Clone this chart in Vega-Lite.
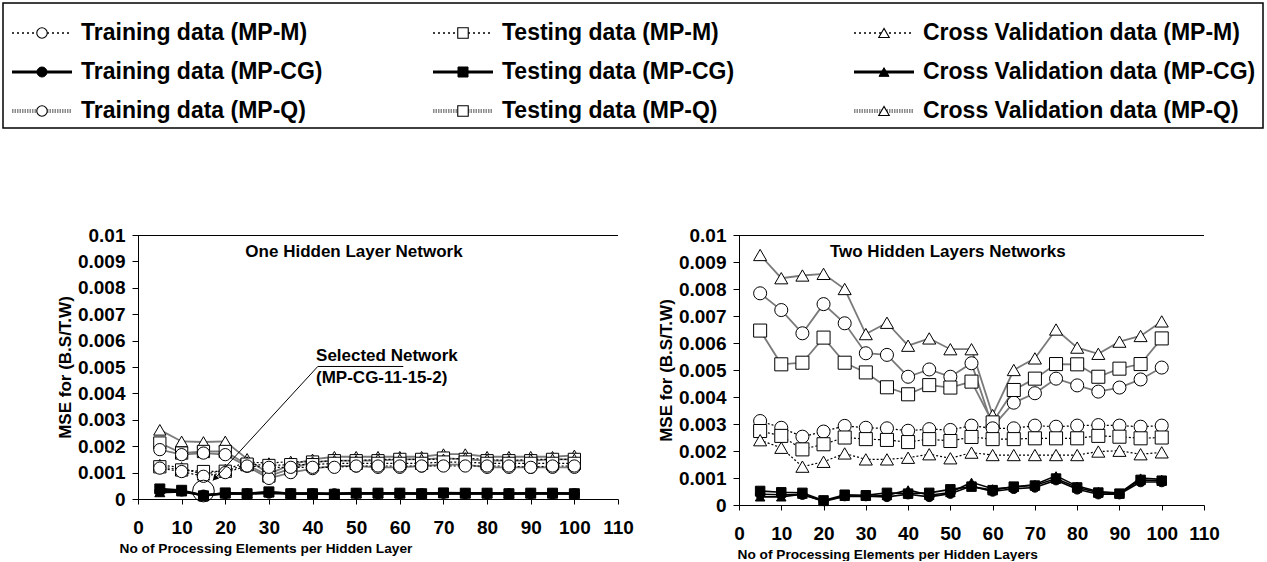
{
  "$schema": "https://vega.github.io/schema/vega-lite/v6.json",
  "background": "white",
  "padding": {"left": 2, "top": 2, "right": 0, "bottom": 0},
  "config": {
    "font": "Liberation Sans",
    "view": {"stroke": null},
    "axis": {
      "labelFont": "Liberation Sans", "labelFontSize": 19, "labelFontWeight": "bold", "labelColor": "#000",
      "titleFont": "Liberation Sans", "titleFontSize": 17, "titleFontWeight": "bold", "titleColor": "#000",
      "domainColor": "#000", "domainWidth": 1, "tickColor": "#000", "tickWidth": 1, "grid": false,
      "labelFlush": false, "labelOverlap": false
    },
    "axisY": {"tickSize": 6, "labelPadding": 7, "titlePadding": 3},
    "axisX": {"tickSize": 5, "labelPadding": 14, "titlePadding": 4, "titleFontSize": 13.7}
  },
  "datasets": {
    "keys": [
      {"set": "Training", "method": "MP-M", "label": "Training data (MP-M)"},
      {"set": "Testing", "method": "MP-M", "label": "Testing data (MP-M)"},
      {"set": "Cross Validation", "method": "MP-M", "label": "Cross Validation data (MP-M)"},
      {"set": "Training", "method": "MP-CG", "label": "Training data (MP-CG)"},
      {"set": "Testing", "method": "MP-CG", "label": "Testing data (MP-CG)"},
      {"set": "Cross Validation", "method": "MP-CG", "label": "Cross Validation data (MP-CG)"},
      {"set": "Training", "method": "MP-Q", "label": "Training data (MP-Q)"},
      {"set": "Testing", "method": "MP-Q", "label": "Testing data (MP-Q)"},
      {"set": "Cross Validation", "method": "MP-Q", "label": "Cross Validation data (MP-Q)"}
    ],
    "one": [
      {"pe":5,"set":"Cross Validation","method":"MP-Q","mse":0.00262},{"pe":10,"set":"Cross Validation","method":"MP-Q","mse":0.00218},{"pe":15,"set":"Cross Validation","method":"MP-Q","mse":0.00216},{"pe":20,"set":"Cross Validation","method":"MP-Q","mse":0.00218},{"pe":25,"set":"Cross Validation","method":"MP-Q","mse":0.00152},{"pe":30,"set":"Cross Validation","method":"MP-Q","mse":0.00095},{"pe":35,"set":"Cross Validation","method":"MP-Q","mse":0.0013},{"pe":40,"set":"Cross Validation","method":"MP-Q","mse":0.0015},{"pe":45,"set":"Cross Validation","method":"MP-Q","mse":0.0016},{"pe":50,"set":"Cross Validation","method":"MP-Q","mse":0.0016},{"pe":55,"set":"Cross Validation","method":"MP-Q","mse":0.0016},{"pe":60,"set":"Cross Validation","method":"MP-Q","mse":0.0016},{"pe":65,"set":"Cross Validation","method":"MP-Q","mse":0.0016},{"pe":70,"set":"Cross Validation","method":"MP-Q","mse":0.0017},{"pe":75,"set":"Cross Validation","method":"MP-Q","mse":0.0017},{"pe":80,"set":"Cross Validation","method":"MP-Q","mse":0.0016},{"pe":85,"set":"Cross Validation","method":"MP-Q","mse":0.0016},{"pe":90,"set":"Cross Validation","method":"MP-Q","mse":0.0016},{"pe":95,"set":"Cross Validation","method":"MP-Q","mse":0.0016},{"pe":100,"set":"Cross Validation","method":"MP-Q","mse":0.00165},
      {"pe":5,"set":"Testing","method":"MP-Q","mse":0.00212},{"pe":10,"set":"Testing","method":"MP-Q","mse":0.00174},{"pe":15,"set":"Testing","method":"MP-Q","mse":0.0018},{"pe":20,"set":"Testing","method":"MP-Q","mse":0.0018},{"pe":25,"set":"Testing","method":"MP-Q","mse":0.0013},{"pe":30,"set":"Testing","method":"MP-Q","mse":0.00087},{"pe":35,"set":"Testing","method":"MP-Q","mse":0.00115},{"pe":40,"set":"Testing","method":"MP-Q","mse":0.0014},{"pe":45,"set":"Testing","method":"MP-Q","mse":0.00145},{"pe":50,"set":"Testing","method":"MP-Q","mse":0.00145},{"pe":55,"set":"Testing","method":"MP-Q","mse":0.00145},{"pe":60,"set":"Testing","method":"MP-Q","mse":0.0015},{"pe":65,"set":"Testing","method":"MP-Q","mse":0.0015},{"pe":70,"set":"Testing","method":"MP-Q","mse":0.00155},{"pe":75,"set":"Testing","method":"MP-Q","mse":0.0015},{"pe":80,"set":"Testing","method":"MP-Q","mse":0.00145},{"pe":85,"set":"Testing","method":"MP-Q","mse":0.00145},{"pe":90,"set":"Testing","method":"MP-Q","mse":0.00145},{"pe":95,"set":"Testing","method":"MP-Q","mse":0.0015},{"pe":100,"set":"Testing","method":"MP-Q","mse":0.0015},
      {"pe":5,"set":"Training","method":"MP-Q","mse":0.00187},{"pe":10,"set":"Training","method":"MP-Q","mse":0.00168},{"pe":15,"set":"Training","method":"MP-Q","mse":0.00174},{"pe":20,"set":"Training","method":"MP-Q","mse":0.00168},{"pe":25,"set":"Training","method":"MP-Q","mse":0.00124},{"pe":30,"set":"Training","method":"MP-Q","mse":0.00078},{"pe":35,"set":"Training","method":"MP-Q","mse":0.001},{"pe":40,"set":"Training","method":"MP-Q","mse":0.00115},{"pe":45,"set":"Training","method":"MP-Q","mse":0.00125},{"pe":50,"set":"Training","method":"MP-Q","mse":0.00125},{"pe":55,"set":"Training","method":"MP-Q","mse":0.0012},{"pe":60,"set":"Training","method":"MP-Q","mse":0.0012},{"pe":65,"set":"Training","method":"MP-Q","mse":0.00125},{"pe":70,"set":"Training","method":"MP-Q","mse":0.0013},{"pe":75,"set":"Training","method":"MP-Q","mse":0.0013},{"pe":80,"set":"Training","method":"MP-Q","mse":0.0012},{"pe":85,"set":"Training","method":"MP-Q","mse":0.0012},{"pe":90,"set":"Training","method":"MP-Q","mse":0.0012},{"pe":95,"set":"Training","method":"MP-Q","mse":0.0012},{"pe":100,"set":"Training","method":"MP-Q","mse":0.0012},
      {"pe":5,"set":"Cross Validation","method":"MP-M","mse":0.0013},{"pe":10,"set":"Cross Validation","method":"MP-M","mse":0.00118},{"pe":15,"set":"Cross Validation","method":"MP-M","mse":0.00092},{"pe":20,"set":"Cross Validation","method":"MP-M","mse":0.00111},{"pe":25,"set":"Cross Validation","method":"MP-M","mse":0.0014},{"pe":30,"set":"Cross Validation","method":"MP-M","mse":0.00136},{"pe":35,"set":"Cross Validation","method":"MP-M","mse":0.00142},{"pe":40,"set":"Cross Validation","method":"MP-M","mse":0.0014},{"pe":45,"set":"Cross Validation","method":"MP-M","mse":0.00145},{"pe":50,"set":"Cross Validation","method":"MP-M","mse":0.00145},{"pe":55,"set":"Cross Validation","method":"MP-M","mse":0.0015},{"pe":60,"set":"Cross Validation","method":"MP-M","mse":0.0015},{"pe":65,"set":"Cross Validation","method":"MP-M","mse":0.0015},{"pe":70,"set":"Cross Validation","method":"MP-M","mse":0.0015},{"pe":75,"set":"Cross Validation","method":"MP-M","mse":0.00155},{"pe":80,"set":"Cross Validation","method":"MP-M","mse":0.0015},{"pe":85,"set":"Cross Validation","method":"MP-M","mse":0.00145},{"pe":90,"set":"Cross Validation","method":"MP-M","mse":0.0015},{"pe":95,"set":"Cross Validation","method":"MP-M","mse":0.0015},{"pe":100,"set":"Cross Validation","method":"MP-M","mse":0.0015},
      {"pe":5,"set":"Testing","method":"MP-M","mse":0.00122},{"pe":10,"set":"Testing","method":"MP-M","mse":0.0011},{"pe":15,"set":"Testing","method":"MP-M","mse":0.00104},{"pe":20,"set":"Testing","method":"MP-M","mse":0.00105},{"pe":25,"set":"Testing","method":"MP-M","mse":0.00132},{"pe":30,"set":"Testing","method":"MP-M","mse":0.00127},{"pe":35,"set":"Testing","method":"MP-M","mse":0.0013},{"pe":40,"set":"Testing","method":"MP-M","mse":0.0013},{"pe":45,"set":"Testing","method":"MP-M","mse":0.00135},{"pe":50,"set":"Testing","method":"MP-M","mse":0.00135},{"pe":55,"set":"Testing","method":"MP-M","mse":0.00135},{"pe":60,"set":"Testing","method":"MP-M","mse":0.00135},{"pe":65,"set":"Testing","method":"MP-M","mse":0.00135},{"pe":70,"set":"Testing","method":"MP-M","mse":0.0014},{"pe":75,"set":"Testing","method":"MP-M","mse":0.0014},{"pe":80,"set":"Testing","method":"MP-M","mse":0.00135},{"pe":85,"set":"Testing","method":"MP-M","mse":0.00135},{"pe":90,"set":"Testing","method":"MP-M","mse":0.00135},{"pe":95,"set":"Testing","method":"MP-M","mse":0.00135},{"pe":100,"set":"Testing","method":"MP-M","mse":0.00135},
      {"pe":5,"set":"Training","method":"MP-M","mse":0.00117},{"pe":10,"set":"Training","method":"MP-M","mse":0.00104},{"pe":15,"set":"Training","method":"MP-M","mse":0.00086},{"pe":20,"set":"Training","method":"MP-M","mse":0.001},{"pe":25,"set":"Training","method":"MP-M","mse":0.00125},{"pe":30,"set":"Training","method":"MP-M","mse":0.0012},{"pe":35,"set":"Training","method":"MP-M","mse":0.0012},{"pe":40,"set":"Training","method":"MP-M","mse":0.0012},{"pe":45,"set":"Training","method":"MP-M","mse":0.0012},{"pe":50,"set":"Training","method":"MP-M","mse":0.00125},{"pe":55,"set":"Training","method":"MP-M","mse":0.00125},{"pe":60,"set":"Training","method":"MP-M","mse":0.00125},{"pe":65,"set":"Training","method":"MP-M","mse":0.00125},{"pe":70,"set":"Training","method":"MP-M","mse":0.00125},{"pe":75,"set":"Training","method":"MP-M","mse":0.00125},{"pe":80,"set":"Training","method":"MP-M","mse":0.00125},{"pe":85,"set":"Training","method":"MP-M","mse":0.00125},{"pe":90,"set":"Training","method":"MP-M","mse":0.0012},{"pe":95,"set":"Training","method":"MP-M","mse":0.00125},{"pe":100,"set":"Training","method":"MP-M","mse":0.00125},
      {"pe":5,"set":"Testing","method":"MP-CG","mse":0.00038},{"pe":10,"set":"Testing","method":"MP-CG","mse":0.00033},{"pe":15,"set":"Testing","method":"MP-CG","mse":0.00012},{"pe":20,"set":"Testing","method":"MP-CG","mse":0.00023},{"pe":25,"set":"Testing","method":"MP-CG","mse":0.0002},{"pe":30,"set":"Testing","method":"MP-CG","mse":0.00027},{"pe":35,"set":"Testing","method":"MP-CG","mse":0.0002},{"pe":40,"set":"Testing","method":"MP-CG","mse":0.0002},{"pe":45,"set":"Testing","method":"MP-CG","mse":0.00018},{"pe":50,"set":"Testing","method":"MP-CG","mse":0.00022},{"pe":55,"set":"Testing","method":"MP-CG","mse":0.00022},{"pe":60,"set":"Testing","method":"MP-CG","mse":0.00022},{"pe":65,"set":"Testing","method":"MP-CG","mse":0.0002},{"pe":70,"set":"Testing","method":"MP-CG","mse":0.00023},{"pe":75,"set":"Testing","method":"MP-CG","mse":0.00022},{"pe":80,"set":"Testing","method":"MP-CG","mse":0.00022},{"pe":85,"set":"Testing","method":"MP-CG","mse":0.0002},{"pe":90,"set":"Testing","method":"MP-CG","mse":0.00022},{"pe":95,"set":"Testing","method":"MP-CG","mse":0.00022},{"pe":100,"set":"Testing","method":"MP-CG","mse":0.0002},
      {"pe":5,"set":"Training","method":"MP-CG","mse":0.0003},{"pe":10,"set":"Training","method":"MP-CG","mse":0.0003},{"pe":15,"set":"Training","method":"MP-CG","mse":0.00015},{"pe":20,"set":"Training","method":"MP-CG","mse":0.0002},{"pe":25,"set":"Training","method":"MP-CG","mse":0.0002},{"pe":30,"set":"Training","method":"MP-CG","mse":0.00022},{"pe":35,"set":"Training","method":"MP-CG","mse":0.0002},{"pe":40,"set":"Training","method":"MP-CG","mse":0.0002},{"pe":45,"set":"Training","method":"MP-CG","mse":0.0002},{"pe":50,"set":"Training","method":"MP-CG","mse":0.00021},{"pe":55,"set":"Training","method":"MP-CG","mse":0.0002},{"pe":60,"set":"Training","method":"MP-CG","mse":0.0002},{"pe":65,"set":"Training","method":"MP-CG","mse":0.0002},{"pe":70,"set":"Training","method":"MP-CG","mse":0.00021},{"pe":75,"set":"Training","method":"MP-CG","mse":0.0002},{"pe":80,"set":"Training","method":"MP-CG","mse":0.0002},{"pe":85,"set":"Training","method":"MP-CG","mse":0.0002},{"pe":90,"set":"Training","method":"MP-CG","mse":0.0002},{"pe":95,"set":"Training","method":"MP-CG","mse":0.0002},{"pe":100,"set":"Training","method":"MP-CG","mse":0.0002},
      {"pe":5,"set":"Cross Validation","method":"MP-CG","mse":0.00025},{"pe":10,"set":"Cross Validation","method":"MP-CG","mse":0.00028},{"pe":15,"set":"Cross Validation","method":"MP-CG","mse":0.00015},{"pe":20,"set":"Cross Validation","method":"MP-CG","mse":0.0002},{"pe":25,"set":"Cross Validation","method":"MP-CG","mse":0.00021},{"pe":30,"set":"Cross Validation","method":"MP-CG","mse":0.00024},{"pe":35,"set":"Cross Validation","method":"MP-CG","mse":0.00021},{"pe":40,"set":"Cross Validation","method":"MP-CG","mse":0.00021},{"pe":45,"set":"Cross Validation","method":"MP-CG","mse":0.0002},{"pe":50,"set":"Cross Validation","method":"MP-CG","mse":0.00022},{"pe":55,"set":"Cross Validation","method":"MP-CG","mse":0.00021},{"pe":60,"set":"Cross Validation","method":"MP-CG","mse":0.00021},{"pe":65,"set":"Cross Validation","method":"MP-CG","mse":0.00021},{"pe":70,"set":"Cross Validation","method":"MP-CG","mse":0.00022},{"pe":75,"set":"Cross Validation","method":"MP-CG","mse":0.00021},{"pe":80,"set":"Cross Validation","method":"MP-CG","mse":0.00021},{"pe":85,"set":"Cross Validation","method":"MP-CG","mse":0.00021},{"pe":90,"set":"Cross Validation","method":"MP-CG","mse":0.00021},{"pe":95,"set":"Cross Validation","method":"MP-CG","mse":0.00021},{"pe":100,"set":"Cross Validation","method":"MP-CG","mse":0.00021}
    ],
    "two": [
      {"pe":5,"set":"Cross Validation","method":"MP-Q","mse":0.00926},{"pe":10,"set":"Cross Validation","method":"MP-Q","mse":0.0084},{"pe":15,"set":"Cross Validation","method":"MP-Q","mse":0.0085},{"pe":20,"set":"Cross Validation","method":"MP-Q","mse":0.00856},{"pe":25,"set":"Cross Validation","method":"MP-Q","mse":0.008},{"pe":30,"set":"Cross Validation","method":"MP-Q","mse":0.00633},{"pe":35,"set":"Cross Validation","method":"MP-Q","mse":0.00675},{"pe":40,"set":"Cross Validation","method":"MP-Q","mse":0.0059},{"pe":45,"set":"Cross Validation","method":"MP-Q","mse":0.00617},{"pe":50,"set":"Cross Validation","method":"MP-Q","mse":0.00577},{"pe":55,"set":"Cross Validation","method":"MP-Q","mse":0.00577},{"pe":60,"set":"Cross Validation","method":"MP-Q","mse":0.00333},{"pe":65,"set":"Cross Validation","method":"MP-Q","mse":0.005},{"pe":70,"set":"Cross Validation","method":"MP-Q","mse":0.00543},{"pe":75,"set":"Cross Validation","method":"MP-Q","mse":0.0065},{"pe":80,"set":"Cross Validation","method":"MP-Q","mse":0.00583},{"pe":85,"set":"Cross Validation","method":"MP-Q","mse":0.0056},{"pe":90,"set":"Cross Validation","method":"MP-Q","mse":0.00605},{"pe":95,"set":"Cross Validation","method":"MP-Q","mse":0.00626},{"pe":100,"set":"Cross Validation","method":"MP-Q","mse":0.0068},
      {"pe":5,"set":"Training","method":"MP-Q","mse":0.00784},{"pe":10,"set":"Training","method":"MP-Q","mse":0.00722},{"pe":15,"set":"Training","method":"MP-Q","mse":0.00636},{"pe":20,"set":"Training","method":"MP-Q","mse":0.00744},{"pe":25,"set":"Training","method":"MP-Q","mse":0.00673},{"pe":30,"set":"Training","method":"MP-Q","mse":0.00562},{"pe":35,"set":"Training","method":"MP-Q","mse":0.00556},{"pe":40,"set":"Training","method":"MP-Q","mse":0.00475},{"pe":45,"set":"Training","method":"MP-Q","mse":0.00502},{"pe":50,"set":"Training","method":"MP-Q","mse":0.00475},{"pe":55,"set":"Training","method":"MP-Q","mse":0.00525},{"pe":60,"set":"Training","method":"MP-Q","mse":0.0029},{"pe":65,"set":"Training","method":"MP-Q","mse":0.00379},{"pe":70,"set":"Training","method":"MP-Q","mse":0.00414},{"pe":75,"set":"Training","method":"MP-Q","mse":0.00468},{"pe":80,"set":"Training","method":"MP-Q","mse":0.00443},{"pe":85,"set":"Training","method":"MP-Q","mse":0.0042},{"pe":90,"set":"Training","method":"MP-Q","mse":0.00435},{"pe":95,"set":"Training","method":"MP-Q","mse":0.00465},{"pe":100,"set":"Training","method":"MP-Q","mse":0.00509},
      {"pe":5,"set":"Testing","method":"MP-Q","mse":0.00646},{"pe":10,"set":"Testing","method":"MP-Q","mse":0.00521},{"pe":15,"set":"Testing","method":"MP-Q","mse":0.00527},{"pe":20,"set":"Testing","method":"MP-Q","mse":0.0062},{"pe":25,"set":"Testing","method":"MP-Q","mse":0.00527},{"pe":30,"set":"Testing","method":"MP-Q","mse":0.00491},{"pe":35,"set":"Testing","method":"MP-Q","mse":0.00436},{"pe":40,"set":"Testing","method":"MP-Q","mse":0.0041},{"pe":45,"set":"Testing","method":"MP-Q","mse":0.00444},{"pe":50,"set":"Testing","method":"MP-Q","mse":0.00435},{"pe":55,"set":"Testing","method":"MP-Q","mse":0.00457},{"pe":60,"set":"Testing","method":"MP-Q","mse":0.00306},{"pe":65,"set":"Testing","method":"MP-Q","mse":0.00426},{"pe":70,"set":"Testing","method":"MP-Q","mse":0.00468},{"pe":75,"set":"Testing","method":"MP-Q","mse":0.00522},{"pe":80,"set":"Testing","method":"MP-Q","mse":0.00521},{"pe":85,"set":"Testing","method":"MP-Q","mse":0.00475},{"pe":90,"set":"Testing","method":"MP-Q","mse":0.00505},{"pe":95,"set":"Testing","method":"MP-Q","mse":0.00522},{"pe":100,"set":"Testing","method":"MP-Q","mse":0.00617},
      {"pe":5,"set":"Training","method":"MP-M","mse":0.00311},{"pe":10,"set":"Training","method":"MP-M","mse":0.00286},{"pe":15,"set":"Training","method":"MP-M","mse":0.00253},{"pe":20,"set":"Training","method":"MP-M","mse":0.00272},{"pe":25,"set":"Training","method":"MP-M","mse":0.00293},{"pe":30,"set":"Training","method":"MP-M","mse":0.00286},{"pe":35,"set":"Training","method":"MP-M","mse":0.00284},{"pe":40,"set":"Training","method":"MP-M","mse":0.00275},{"pe":45,"set":"Training","method":"MP-M","mse":0.00281},{"pe":50,"set":"Training","method":"MP-M","mse":0.00278},{"pe":55,"set":"Training","method":"MP-M","mse":0.00294},{"pe":60,"set":"Training","method":"MP-M","mse":0.00284},{"pe":65,"set":"Training","method":"MP-M","mse":0.00284},{"pe":70,"set":"Training","method":"MP-M","mse":0.00294},{"pe":75,"set":"Training","method":"MP-M","mse":0.0029},{"pe":80,"set":"Training","method":"MP-M","mse":0.00294},{"pe":85,"set":"Training","method":"MP-M","mse":0.00296},{"pe":90,"set":"Training","method":"MP-M","mse":0.00294},{"pe":95,"set":"Training","method":"MP-M","mse":0.0029},{"pe":100,"set":"Training","method":"MP-M","mse":0.00294},
      {"pe":5,"set":"Testing","method":"MP-M","mse":0.00274},{"pe":10,"set":"Testing","method":"MP-M","mse":0.00256},{"pe":15,"set":"Testing","method":"MP-M","mse":0.00206},{"pe":20,"set":"Testing","method":"MP-M","mse":0.00225},{"pe":25,"set":"Testing","method":"MP-M","mse":0.0025},{"pe":30,"set":"Testing","method":"MP-M","mse":0.00244},{"pe":35,"set":"Testing","method":"MP-M","mse":0.00241},{"pe":40,"set":"Testing","method":"MP-M","mse":0.00233},{"pe":45,"set":"Testing","method":"MP-M","mse":0.00244},{"pe":50,"set":"Testing","method":"MP-M","mse":0.00237},{"pe":55,"set":"Testing","method":"MP-M","mse":0.00252},{"pe":60,"set":"Testing","method":"MP-M","mse":0.00244},{"pe":65,"set":"Testing","method":"MP-M","mse":0.00244},{"pe":70,"set":"Testing","method":"MP-M","mse":0.00247},{"pe":75,"set":"Testing","method":"MP-M","mse":0.00247},{"pe":80,"set":"Testing","method":"MP-M","mse":0.00247},{"pe":85,"set":"Testing","method":"MP-M","mse":0.00256},{"pe":90,"set":"Testing","method":"MP-M","mse":0.00253},{"pe":95,"set":"Testing","method":"MP-M","mse":0.00247},{"pe":100,"set":"Testing","method":"MP-M","mse":0.0025},
      {"pe":5,"set":"Cross Validation","method":"MP-M","mse":0.0024},{"pe":10,"set":"Cross Validation","method":"MP-M","mse":0.00212},{"pe":15,"set":"Cross Validation","method":"MP-M","mse":0.00142},{"pe":20,"set":"Cross Validation","method":"MP-M","mse":0.0016},{"pe":25,"set":"Cross Validation","method":"MP-M","mse":0.00191},{"pe":30,"set":"Cross Validation","method":"MP-M","mse":0.00169},{"pe":35,"set":"Cross Validation","method":"MP-M","mse":0.00169},{"pe":40,"set":"Cross Validation","method":"MP-M","mse":0.00175},{"pe":45,"set":"Cross Validation","method":"MP-M","mse":0.00188},{"pe":50,"set":"Cross Validation","method":"MP-M","mse":0.00173},{"pe":55,"set":"Cross Validation","method":"MP-M","mse":0.00194},{"pe":60,"set":"Cross Validation","method":"MP-M","mse":0.00185},{"pe":65,"set":"Cross Validation","method":"MP-M","mse":0.00185},{"pe":70,"set":"Cross Validation","method":"MP-M","mse":0.00185},{"pe":75,"set":"Cross Validation","method":"MP-M","mse":0.00185},{"pe":80,"set":"Cross Validation","method":"MP-M","mse":0.00185},{"pe":85,"set":"Cross Validation","method":"MP-M","mse":0.00198},{"pe":90,"set":"Cross Validation","method":"MP-M","mse":0.00201},{"pe":95,"set":"Cross Validation","method":"MP-M","mse":0.00188},{"pe":100,"set":"Cross Validation","method":"MP-M","mse":0.00195},
      {"pe":5,"set":"Training","method":"MP-CG","mse":0.0004},{"pe":10,"set":"Training","method":"MP-CG","mse":0.00038},{"pe":15,"set":"Training","method":"MP-CG","mse":0.00038},{"pe":20,"set":"Training","method":"MP-CG","mse":0.00015},{"pe":25,"set":"Training","method":"MP-CG","mse":0.00033},{"pe":30,"set":"Training","method":"MP-CG","mse":0.00033},{"pe":35,"set":"Training","method":"MP-CG","mse":0.0003},{"pe":40,"set":"Training","method":"MP-CG","mse":0.0004},{"pe":45,"set":"Training","method":"MP-CG","mse":0.0003},{"pe":50,"set":"Training","method":"MP-CG","mse":0.00042},{"pe":55,"set":"Training","method":"MP-CG","mse":0.0007},{"pe":60,"set":"Training","method":"MP-CG","mse":0.0005},{"pe":65,"set":"Training","method":"MP-CG","mse":0.0006},{"pe":70,"set":"Training","method":"MP-CG","mse":0.00065},{"pe":75,"set":"Training","method":"MP-CG","mse":0.00092},{"pe":80,"set":"Training","method":"MP-CG","mse":0.00058},{"pe":85,"set":"Training","method":"MP-CG","mse":0.0004},{"pe":90,"set":"Training","method":"MP-CG","mse":0.0004},{"pe":95,"set":"Training","method":"MP-CG","mse":0.00085},{"pe":100,"set":"Training","method":"MP-CG","mse":0.00085},
      {"pe":5,"set":"Testing","method":"MP-CG","mse":0.00052},{"pe":10,"set":"Testing","method":"MP-CG","mse":0.00047},{"pe":15,"set":"Testing","method":"MP-CG","mse":0.00045},{"pe":20,"set":"Testing","method":"MP-CG","mse":0.00017},{"pe":25,"set":"Testing","method":"MP-CG","mse":0.00038},{"pe":30,"set":"Testing","method":"MP-CG","mse":0.00036},{"pe":35,"set":"Testing","method":"MP-CG","mse":0.00045},{"pe":40,"set":"Testing","method":"MP-CG","mse":0.00042},{"pe":45,"set":"Testing","method":"MP-CG","mse":0.00045},{"pe":50,"set":"Testing","method":"MP-CG","mse":0.00058},{"pe":55,"set":"Testing","method":"MP-CG","mse":0.00068},{"pe":60,"set":"Testing","method":"MP-CG","mse":0.00055},{"pe":65,"set":"Testing","method":"MP-CG","mse":0.00068},{"pe":70,"set":"Testing","method":"MP-CG","mse":0.00072},{"pe":75,"set":"Testing","method":"MP-CG","mse":0.00098},{"pe":80,"set":"Testing","method":"MP-CG","mse":0.00065},{"pe":85,"set":"Testing","method":"MP-CG","mse":0.00046},{"pe":90,"set":"Testing","method":"MP-CG","mse":0.00042},{"pe":95,"set":"Testing","method":"MP-CG","mse":0.00093},{"pe":100,"set":"Testing","method":"MP-CG","mse":0.0009},
      {"pe":5,"set":"Cross Validation","method":"MP-CG","mse":0.0003},{"pe":10,"set":"Cross Validation","method":"MP-CG","mse":0.0003},{"pe":15,"set":"Cross Validation","method":"MP-CG","mse":0.0004},{"pe":20,"set":"Cross Validation","method":"MP-CG","mse":0.00013},{"pe":25,"set":"Cross Validation","method":"MP-CG","mse":0.00032},{"pe":30,"set":"Cross Validation","method":"MP-CG","mse":0.00032},{"pe":35,"set":"Cross Validation","method":"MP-CG","mse":0.00035},{"pe":40,"set":"Cross Validation","method":"MP-CG","mse":0.00056},{"pe":45,"set":"Cross Validation","method":"MP-CG","mse":0.00036},{"pe":50,"set":"Cross Validation","method":"MP-CG","mse":0.00046},{"pe":55,"set":"Cross Validation","method":"MP-CG","mse":0.00084},{"pe":60,"set":"Cross Validation","method":"MP-CG","mse":0.0006},{"pe":65,"set":"Cross Validation","method":"MP-CG","mse":0.00066},{"pe":70,"set":"Cross Validation","method":"MP-CG","mse":0.00076},{"pe":75,"set":"Cross Validation","method":"MP-CG","mse":0.00108},{"pe":80,"set":"Cross Validation","method":"MP-CG","mse":0.0007},{"pe":85,"set":"Cross Validation","method":"MP-CG","mse":0.0005},{"pe":90,"set":"Cross Validation","method":"MP-CG","mse":0.00044},{"pe":95,"set":"Cross Validation","method":"MP-CG","mse":0.001},{"pe":100,"set":"Cross Validation","method":"MP-CG","mse":0.00095}
    ]
  },
  "spacing": 97,
  "vconcat": [
    {
      "width": 1260,
      "height": 125,
      "view": {"stroke": "#000", "strokeWidth": 1.5},
      "data": {"name": "keys"},
      "encoding": {
        "x": {"field": "set", "type": "nominal", "axis": null,
              "scale": {"type": "point", "padding": 0, "domain": ["Training", "Testing", "Cross Validation"], "range": [9, 851]}},
        "y": {"field": "method", "type": "nominal", "axis": null,
              "scale": {"type": "point", "padding": 0, "domain": ["MP-M", "MP-CG", "MP-Q"], "range": [30, 108]}}
      },
      "layer": [
        {"transform": [{"filter": "datum.method === 'MP-M'"}],
         "mark": {"type": "rule", "x2Offset": 60, "color": "#000", "strokeWidth": 1.3, "strokeDash": [2, 3]},
         "encoding": {"x2": {"field": "set"}}},
        {"transform": [{"filter": "datum.method === 'MP-CG'"}],
         "mark": {"type": "rule", "x2Offset": 60, "color": "#000", "strokeWidth": 2.8},
         "encoding": {"x2": {"field": "set"}}},
        {"transform": [{"filter": "datum.method === 'MP-Q'"}],
         "mark": {"type": "rule", "x2Offset": 60, "color": "#8a8a8a", "strokeWidth": 4, "strokeDash": [1.5, 1]},
         "encoding": {"x2": {"field": "set"}}},
        {"transform": [{"filter": "datum.method !== 'MP-CG'"}],
         "mark": {"type": "point", "xOffset": 30, "filled": true, "fill": "white", "stroke": "#000", "strokeWidth": 1.1, "size": 110, "opacity": 1},
         "encoding": {"shape": {"field": "set", "type": "nominal", "legend": null,
                                "scale": {"domain": ["Training", "Testing", "Cross Validation"], "range": ["circle", "square", "triangle-up"]}}}},
        {"transform": [{"filter": "datum.method === 'MP-CG'"}],
         "mark": {"type": "point", "xOffset": 30, "filled": true, "fill": "#000", "stroke": "#000", "strokeWidth": 1, "size": 100, "opacity": 1},
         "encoding": {"shape": {"field": "set", "type": "nominal", "legend": null,
                                "scale": {"domain": ["Training", "Testing", "Cross Validation"], "range": ["circle", "square", "triangle-up"]}}}},
        {"mark": {"type": "text", "dx": 69, "align": "left", "baseline": "middle", "fontSize": 23, "fontWeight": "bold", "color": "#000"},
         "encoding": {"text": {"field": "label"}}}
      ]
    },
    {
      "spacing": 23,
      "hconcat": [
        {"width": 30, "height": 20, "data": {"values": []}, "mark": "point"},
        {
          "width": 480,
          "height": 264,
          "data": {"name": "one"},
          "encoding": {
            "x": {"field": "pe", "type": "quantitative",
                  "scale": {"domain": [0, 110], "nice": false, "zero": false},
                  "axis": {"values": [0, 10, 20, 30, 40, 50, 60, 70, 80, 90, 100, 110],
                           "title": "No of Processing Elements per Hidden Layer", "titleX": -19, "titleAlign": "left"}},
            "y": {"field": "mse", "type": "quantitative",
                  "scale": {"domain": [0, 0.01], "nice": false},
                  "axis": {"values": [0, 0.001, 0.002, 0.003, 0.004, 0.005, 0.006, 0.007, 0.008, 0.009, 0.01],
                           "format": ".3~f", "title": "MSE for (B.S/T.W)"}}
          },
          "layer": [
            {"transform": [{"filter": "datum.pe === 5 && datum.set === 'Training' && datum.method === 'MP-M'"}],
             "mark": {"type": "rule", "color": "#000", "strokeWidth": 1, "yOffset": 0.5},
             "encoding": {"x": {"datum": 0}, "x2": {"datum": 110}, "y": {"datum": 0.01}}},
            {"transform": [{"filter": "datum.method === 'MP-Q'"}],
             "mark": {"type": "line", "color": "#7a7a7a", "strokeWidth": 1.8},
             "encoding": {"detail": {"field": "set"}}},
            {"transform": [{"filter": "datum.method === 'MP-M'"}],
             "mark": {"type": "line", "color": "#000", "strokeWidth": 1.2, "strokeDash": [2, 2]},
             "encoding": {"detail": {"field": "set"}}},
            {"transform": [{"filter": "datum.method !== 'MP-CG'"}],
             "mark": {"type": "point", "filled": true, "fill": "white", "stroke": "#000", "strokeWidth": 1, "size": 150, "opacity": 1},
             "encoding": {"shape": {"field": "set", "type": "nominal", "legend": null,
                                    "scale": {"domain": ["Training", "Testing", "Cross Validation"], "range": ["circle", "square", "triangle-up"]}}}},
            {"transform": [{"filter": "datum.method === 'MP-CG'"}],
             "mark": {"type": "line", "color": "#000", "strokeWidth": 2.2},
             "encoding": {"detail": {"field": "set"}}},
            {"transform": [{"filter": "datum.method === 'MP-CG'"}],
             "mark": {"type": "point", "filled": true, "fill": "#000", "stroke": "#000", "strokeWidth": 1, "size": 100, "opacity": 1},
             "encoding": {"shape": {"field": "set", "type": "nominal", "legend": null,
                                    "scale": {"domain": ["Training", "Testing", "Cross Validation"], "range": ["circle", "square", "triangle-up"]}}}},
            {"transform": [{"filter": "datum.method === 'MP-CG' && datum.set === 'Training' && datum.pe === 15"}],
             "mark": {"type": "point", "shape": "circle", "size": 470, "filled": false, "stroke": "#000", "strokeWidth": 1, "opacity": 1, "yOffset": -4}},
            {"transform": [{"filter": "datum.pe === 5 && datum.set === 'Training' && datum.method === 'MP-M'"}],
             "mark": {"type": "rule", "color": "#000", "strokeWidth": 1},
             "encoding": {"x": {"datum": 17.2}, "y": {"datum": 0.0007}, "x2": {"datum": 41.2}, "y2": {"datum": 0.00502}}},
            {"transform": [{"filter": "datum.pe === 5 && datum.set === 'Training' && datum.method === 'MP-M'"}],
             "mark": {"type": "rule", "color": "#000", "strokeWidth": 1},
             "encoding": {"x": {"datum": 41.2}, "x2": {"datum": 60.8}, "y": {"datum": 0.00502}}},
            {"transform": [{"filter": "datum.pe === 5 && datum.set === 'Training' && datum.method === 'MP-M'"}],
             "mark": {"type": "point", "shape": "triangle-up", "angle": 223, "size": 45, "filled": true, "color": "#000", "opacity": 1},
             "encoding": {"x": {"datum": 17.6}, "y": {"datum": 0.00078}}},
            {"transform": [{"filter": "datum.pe === 5 && datum.set === 'Training' && datum.method === 'MP-M'"}],
             "mark": {"type": "text", "fontSize": 17, "fontWeight": "bold", "align": "center", "baseline": "middle", "color": "#000"},
             "encoding": {"x": {"datum": 49.5}, "y": {"datum": 0.00937}, "text": {"value": "One Hidden Layer Network"}}},
            {"transform": [{"filter": "datum.pe === 5 && datum.set === 'Training' && datum.method === 'MP-M'"}],
             "mark": {"type": "text", "fontSize": 17, "fontWeight": "bold", "align": "left", "baseline": "middle", "color": "#000"},
             "encoding": {"x": {"datum": 40.8}, "y": {"datum": 0.0054}, "text": {"value": "Selected Network"}}},
            {"transform": [{"filter": "datum.pe === 5 && datum.set === 'Training' && datum.method === 'MP-M'"}],
             "mark": {"type": "text", "fontSize": 17, "fontWeight": "bold", "align": "left", "baseline": "middle", "color": "#000"},
             "encoding": {"x": {"datum": 40.8}, "y": {"datum": 0.00458}, "text": {"value": "(MP-CG-11-15-2)"}}}
          ]
        },
        {
          "width": 465,
          "height": 270,
          "data": {"name": "two"},
          "encoding": {
            "x": {"field": "pe", "type": "quantitative",
                  "scale": {"domain": [0, 110], "nice": false, "zero": false},
                  "axis": {"values": [0, 10, 20, 30, 40, 50, 60, 70, 80, 90, 100, 110],
                           "title": "No of Processing Elements per Hidden Layers", "titleX": -2, "titleAlign": "left"}},
            "y": {"field": "mse", "type": "quantitative",
                  "scale": {"domain": [0, 0.01], "nice": false},
                  "axis": {"values": [0, 0.001, 0.002, 0.003, 0.004, 0.005, 0.006, 0.007, 0.008, 0.009, 0.01],
                           "format": ".3~f", "title": "MSE for (B.S/T.W)"}}
          },
          "layer": [
            {"transform": [{"filter": "datum.pe === 5 && datum.set === 'Training' && datum.method === 'MP-M'"}],
             "mark": {"type": "rule", "color": "#000", "strokeWidth": 1, "yOffset": 0.5},
             "encoding": {"x": {"datum": 0}, "x2": {"datum": 110}, "y": {"datum": 0.01}}},
            {"transform": [{"filter": "datum.method === 'MP-Q'"}],
             "mark": {"type": "line", "color": "#7a7a7a", "strokeWidth": 1.8},
             "encoding": {"detail": {"field": "set"}}},
            {"transform": [{"filter": "datum.method === 'MP-M'"}],
             "mark": {"type": "line", "color": "#000", "strokeWidth": 1.2, "strokeDash": [2, 2]},
             "encoding": {"detail": {"field": "set"}}},
            {"transform": [{"filter": "datum.method !== 'MP-CG'"}],
             "mark": {"type": "point", "filled": true, "fill": "white", "stroke": "#000", "strokeWidth": 1, "size": 170, "opacity": 1},
             "encoding": {"shape": {"field": "set", "type": "nominal", "legend": null,
                                    "scale": {"domain": ["Training", "Testing", "Cross Validation"], "range": ["circle", "square", "triangle-up"]}}}},
            {"transform": [{"filter": "datum.method === 'MP-CG'"}],
             "mark": {"type": "line", "color": "#000", "strokeWidth": 1.6},
             "encoding": {"detail": {"field": "set"}}},
            {"transform": [{"filter": "datum.method === 'MP-CG'"}],
             "mark": {"type": "point", "filled": true, "fill": "#000", "stroke": "#000", "strokeWidth": 1, "size": 90, "opacity": 1},
             "encoding": {"shape": {"field": "set", "type": "nominal", "legend": null,
                                    "scale": {"domain": ["Training", "Testing", "Cross Validation"], "range": ["circle", "square", "triangle-up"]}}}},
            {"transform": [{"filter": "datum.pe === 5 && datum.set === 'Training' && datum.method === 'MP-M'"}],
             "mark": {"type": "text", "fontSize": 17, "fontWeight": "bold", "align": "center", "baseline": "middle", "color": "#000"},
             "encoding": {"x": {"datum": 49.4}, "y": {"datum": 0.00938}, "text": {"value": "Two Hidden Layers Networks"}}}
          ]
        }
      ]
    }
  ]
}
